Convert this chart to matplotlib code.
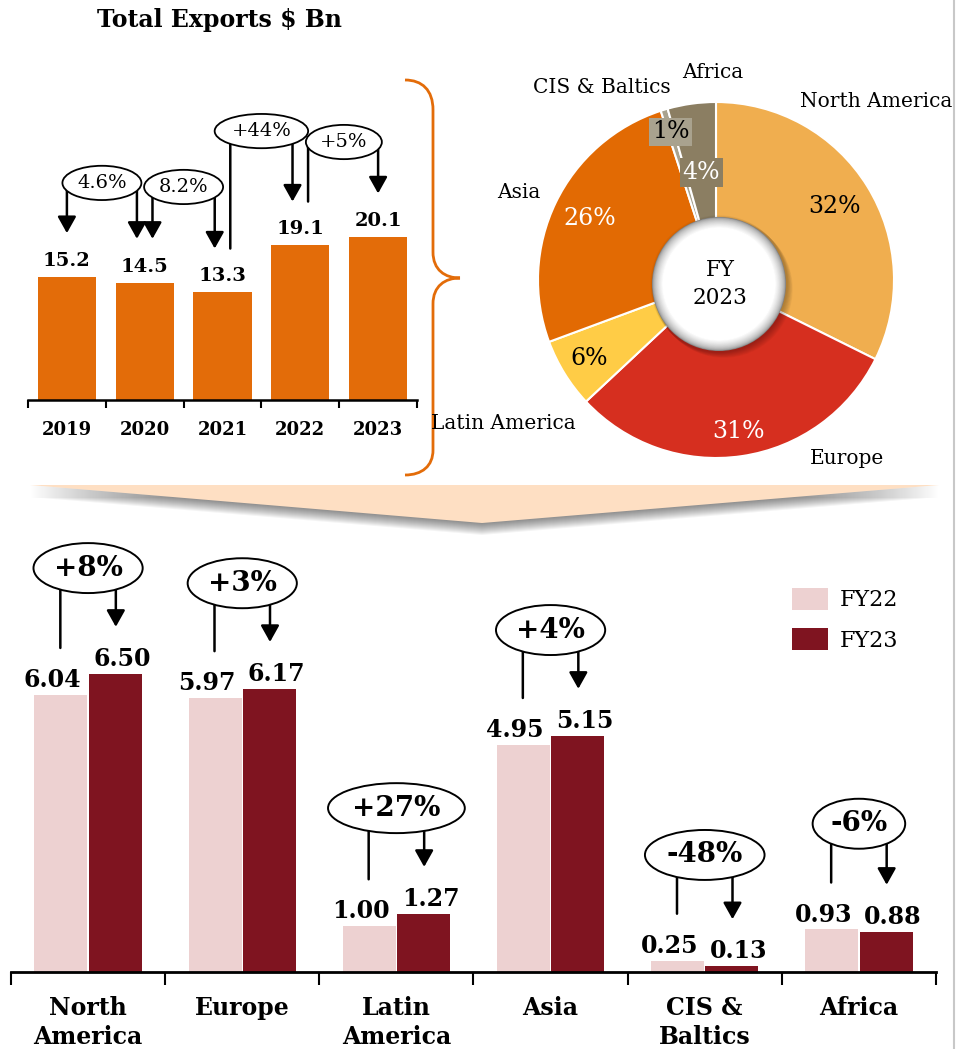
import matplotlib
matplotlib.use('Agg')
import matplotlib.pyplot as plt
import numpy as np
from matplotlib.patches import Polygon, PathPatch, Circle, Patch
from matplotlib.path import Path

# ---------------- data ----------------
years = ['2019', '2020', '2021', '2022', '2023']
total_exports = [15.2, 14.5, 13.3, 19.1, 20.1]
yoy_labels = ['4.6%', '8.2%', '+44%', '+5%']

regions = ['North\nAmerica', 'Europe', 'Latin\nAmerica', 'Asia', 'CIS &\nBaltics', 'Africa']
pie_labels = ['North America', 'Europe', 'Latin America', 'Asia', 'CIS & Baltics', 'Africa']
fy22 = [6.04, 5.97, 1.00, 4.95, 0.25, 0.93]
fy23 = [6.50, 6.17, 1.27, 5.15, 0.13, 0.88]
growth_labels = ['+8%', '+3%', '+27%', '+4%', '-48%', '-6%']

# ---------------- style ----------------
plt.rcParams['font.family'] = ['DejaVu Serif']
ORANGE = '#E36C09'
PIE_COLORS = ['#F0AE4F', '#D62F1F', '#FFCC46', '#E26A03', '#A9A28E', '#8B7E62']
PCT_COLORS = ['black', 'white', 'black', 'white', 'black', 'white']
PCT_BOX = [None, None, None, None, '#A9A28E', '#8B7E62']
PCT_DIST = [0.78, 0.86, 0.84, 0.79, 0.87, 0.61]
FY22_C = '#EDD1D1'
FY23_C = '#7F1420'

W, H = 956, 1049
fig = plt.figure(figsize=(W / 100, H / 100), dpi=100)


def ax_box(left, top, right, bottom, z=1):
    a = fig.add_axes([left / W, 1 - bottom / H, (right - left) / W, (bottom - top) / H])
    a.set_zorder(z)
    a.patch.set_alpha(0)
    return a


# ---------------- overlay (decorations) ----------------
ov = fig.add_axes([0, 0, 1, 1])
ov.set_zorder(0)
ov.set_xlim(0, W)
ov.set_ylim(H, 0)
ov.axis('off')

ov.text(219, 20, 'Total Exports $ Bn', ha='center', va='center', fontsize=17, fontweight='bold')

# brace
verts = [(405, 80), (422, 80), (433, 90), (433, 110),
         (433, 252),
         (433, 270), (445, 278), (460, 278),
         (445, 278), (433, 286), (433, 304),
         (433, 450),
         (433, 466), (422, 475), (405, 475)]
codes = [Path.MOVETO, Path.CURVE4, Path.CURVE4, Path.CURVE4,
         Path.LINETO,
         Path.CURVE4, Path.CURVE4, Path.CURVE4,
         Path.CURVE4, Path.CURVE4, Path.CURVE4,
         Path.LINETO,
         Path.CURVE4, Path.CURVE4, Path.CURVE4]
ov.add_patch(PathPatch(Path(verts, codes), fc='none', ec=ORANGE, lw=2))

# chevron with shadow
chev = np.array([(30, 485), (939, 485), (482, 523)])
for d in range(1, 13):
    ov.add_patch(Polygon(chev + np.array([0, d]), closed=True, fc='black', ec='none', alpha=0.045))
ov.add_patch(Polygon(chev, closed=True, fc='#FEDFC3', ec='none'))

# right edge line
ov.plot([954, 954], [0, H], color='#C8C8C8', lw=1.5)

# ---------------- top bar chart ----------------
axT = ax_box(28, 60, 417, 400)
xT = np.arange(len(years))
axT.bar(xT, total_exports, width=0.75, color=ORANGE, zorder=2)
axT.set_xlim(-0.5, len(years) - 0.5)
axT.set_ylim(0, 340 / 8.1)
for s in ['top', 'right', 'left']:
    axT.spines[s].set_visible(False)
axT.spines['bottom'].set_linewidth(1.8)
axT.set_yticks([])
axT.set_xticks(xT)
axT.set_xticklabels(years, fontsize=13, fontweight='bold')
axT.tick_params(axis='x', which='major', length=0, pad=15)
axT.set_xticks(np.arange(-0.5, len(years)), minor=True)
axT.tick_params(axis='x', which='minor', length=6, width=1.5, direction='out')
for i, v in enumerate(total_exports):
    axT.annotate(f'{v:.1f}', (i, v), xytext=(0, 5), textcoords='offset points',
                 ha='center', va='bottom', fontsize=14, fontweight='bold')

# callouts: (left x offset, right x offset, left arrow?, ellipse x, ellipse lift)
top_callouts = [(0.0, -0.1, True, 0.45, 11.6),
                (0.1, -0.1, True, 1.50, 11.8),
                (0.1, -0.1, False, 2.50, 14.1),
                (0.1, 0.0, False, 3.56, 11.75)]
ARW = dict(arrowstyle='-|>,head_length=0.5,head_width=0.28', color='black', lw=1.8,
           mutation_scale=20, shrinkA=0, shrinkB=0)
LIN = dict(arrowstyle='-', color='black', lw=1.8, shrinkA=0, shrinkB=0)
for k, lab in enumerate(yoy_labels):
    dl, dr, arr_l, ex, lift = top_callouts[k]
    a, b = total_exports[k], total_exports[k + 1]
    ey = max(a, b) + lift
    axT.annotate('', xy=(k + dl, a + 5.4), xytext=(k + dl, ey),
                 arrowprops=ARW if arr_l else LIN, zorder=2, annotation_clip=False)
    axT.annotate('', xy=(k + 1 + dr, b + 5.4), xytext=(k + 1 + dr, ey),
                 arrowprops=ARW, zorder=2, annotation_clip=False)
    axT.text(ex, ey, lab, ha='center', va='center', fontsize=14, zorder=5,
             bbox=dict(boxstyle='ellipse,pad=0.16', fc='white', ec='black', lw=1.3))

# ---------------- pie ----------------
PX, PY, PR = 716, 280, 178
axP = ax_box(PX - PR, PY - PR, PX + PR, PY + PR, z=2)
wedges, _ = axP.pie(fy23, colors=PIE_COLORS, startangle=90, counterclock=False, radius=1,
                    wedgeprops=dict(edgecolor='white', linewidth=1.5))
axP.set_xlim(-1, 1)
axP.set_ylim(-1, 1)
axP.set_aspect('equal')
tot = sum(fy23)
for i, w in enumerate(wedges):
    ang = np.deg2rad((w.theta1 + w.theta2) / 2)
    r = PCT_DIST[i]
    kw = {}
    if PCT_BOX[i]:
        kw['bbox'] = dict(boxstyle='square,pad=0.12', fc=PCT_BOX[i], ec='none')
    axP.text(r * np.cos(ang), r * np.sin(ang), f'{fy23[i] / tot * 100:.0f}%', ha='center',
             va='center', fontsize=17, color=PCT_COLORS[i], zorder=5, **kw)

# outer labels (pixel positions)
outer_pos = [(876, 101), (847, 458), (503, 423), (519, 192), (602, 87), (713, 72)]
for lab, (px, py) in zip(pie_labels, outer_pos):
    axP.text((px - PX) / PR, (PY - py) / PR, lab, ha='center', va='center', fontsize=14.5,
             clip_on=False)

# center disc
cx, cy, cr = 3 / PR, -4 / PR, 67 / PR
for k in range(8):
    axP.add_patch(Circle((cx + 0.004 * k, cy - 0.004 * k), cr + 0.01, fc='black',
                         ec='none', alpha=0.035, zorder=3))
n = 18
for k in range(n):
    t = k / (n - 1)
    g = min(1.0, 0.5 + 0.5 * np.sqrt(t))
    axP.add_patch(Circle((cx, cy), cr * (1 - 0.16 * t), fc=(g, g, g), ec='none', zorder=4))
axP.add_patch(Circle((cx, cy), cr * 0.84, fc='white', ec='none', zorder=4))
axP.text(cx + 1 / PR, cy, 'FY\n2023', ha='center', va='center', fontsize=15.5,
         linespacing=1.4, zorder=6)

# ---------------- bottom grouped bars ----------------
axB = ax_box(11, 520, 936, 972)
xB = np.arange(len(regions))
off, bw = 0.176, 0.344
axB.bar(xB - off, fy22, width=bw, color=FY22_C, label='FY22', zorder=2)
axB.bar(xB + off, fy23, width=bw, color=FY23_C, label='FY23', zorder=2)
axB.set_xlim(-0.5, len(regions) - 0.5)
axB.set_ylim(0, 452 / 45.9)
for s in ['top', 'right', 'left']:
    axB.spines[s].set_visible(False)
axB.spines['bottom'].set_linewidth(2)
axB.set_yticks([])
axB.set_xticks(xB)
axB.set_xticklabels(regions, fontsize=17, fontweight='bold', linespacing=1.3)
axB.tick_params(axis='x', which='major', length=0, pad=17)
axB.set_xticks(np.arange(-0.5, len(regions)), minor=True)
axB.tick_params(axis='x', which='minor', length=9, width=1.5, direction='out')
for i in range(len(regions)):
    axB.annotate(f'{fy22[i]:.2f}', (i - off, fy22[i]), xytext=(-6, 2), textcoords='offset points',
                 ha='center', va='bottom', fontsize=17, fontweight='bold')
    axB.annotate(f'{fy23[i]:.2f}', (i + off, fy23[i]), xytext=(5, 2), textcoords='offset points',
                 ha='center', va='bottom', fontsize=17, fontweight='bold')
    ey = max(fy22[i], fy23[i]) + 2.3
    axB.annotate('', xy=(i - 0.18, fy22[i] + 1.02), xytext=(i - 0.18, ey),
                 arrowprops=LIN, zorder=2, annotation_clip=False)
    axB.annotate('', xy=(i + 0.18, fy23[i] + 1.02), xytext=(i + 0.18, ey),
                 arrowprops=ARW, zorder=2, annotation_clip=False)
    axB.text(i, ey, growth_labels[i], ha='center', va='center', fontsize=20,
             fontweight='bold', zorder=5,
             bbox=dict(boxstyle='ellipse,pad=0.15', fc='white', ec='black', lw=1.4))

handles = [Patch(fc=FY22_C, ec='none'), Patch(fc=FY23_C, ec='none')]
fig.legend(handles, ['FY22', 'FY23'], loc='upper left', bbox_to_anchor=(792 / W, 1 - 588 / H),
           frameon=False, fontsize=16, handlelength=1.62, handleheight=1.13,
           handletextpad=0.55, labelspacing=0.75, borderpad=0, borderaxespad=0)

fig.savefig('out.png', dpi=100)
